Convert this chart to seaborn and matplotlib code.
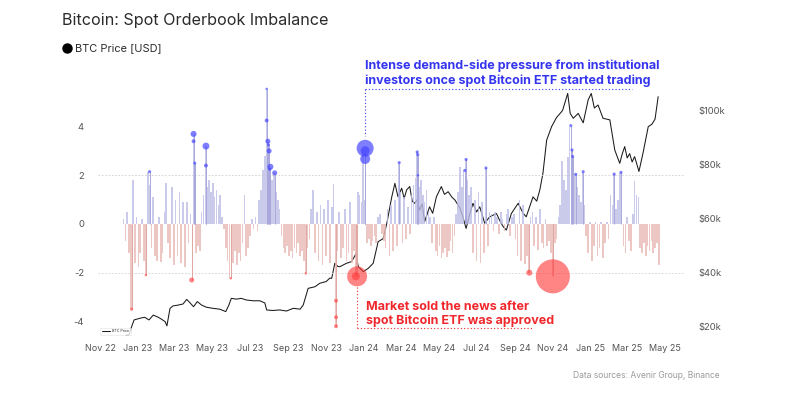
import matplotlib
matplotlib.use("Agg")
import matplotlib.pyplot as plt
import matplotlib.dates as mdates
import seaborn as sns
import pandas as pd
import numpy as np

sns.set_theme(style="white")
plt.rcParams['font.family'] = ['Inter', 'DejaVu Sans']

# ---------------- data ----------------
imbalance_start = "2022-12-09"   # one value every 3 days
imbalance = [
    0.2, -0.7, 0.5, -1.2, -3.5, 1.8, -1.6, 0.3, -1.75, -1.2,
    0.2, -1.5, -2.1, 2.15, 1.6, -1.0, 1.1, -1.3, -1.5, 0.3,
    -1.55, -1.2, 0.5, 1.7, -0.8, -1.4, 1.5, -1.7, 1.0, -1.3,
    1.3, -1.6, 0.9, -1.75, 0.9, -0.8, 0.4, -2.3, 3.7, -1.2,
    -0.9, -1.1, 0.5, 1.2, 3.2, 1.5, 1.8, 1.3, 1.7, 1.1,
    1.4, 0.8, 1.2, 0.3, -0.2, -1.0, -1.5, -2.2, -1.3, -1.6,
    -1.1, -1.7, -1.2, -1.5, -0.8, 1.2, -1.3, -1.0, -0.5, 0.2,
    -0.2, 0.3, -0.3, 1.0, 1.4, 2.2, 2.8, 5.55, 2.4, 1.6,
    1.8, 2.1, 1.3, 1.0, 0.6, -0.5, -1.0, -1.2, -0.9, -1.3,
    -1.1, -1.4, -1.0, -1.2, -0.8, -1.3, -1.1, -1.5, -2.0, -1.0,
    -0.6, 0.6, 1.4, -1.2, 0.5, -1.5, 0.8, -1.7, 0.6, -1.3,
    1.0, -1.6, 0.7, 1.65, -4.2, -1.1, 0.5, -1.4, -1.0, 0.6,
    -1.5, -1.2, 0.9, -1.6, -1.1, -2.15, 1.3, 1.2, 0.9, 3.1,
    1.0, -0.8, -0.6, -0.9, -0.7, -0.5, -0.8, 0.3, 0.4, -0.4,
    -0.7, -1.0, 0.6, -1.3, 0.8, -1.1, 1.0, -0.9, 2.5, 1.3,
    -0.8, 1.1, -0.6, 0.7, -0.4, 1.2, 1.6, 1.9, 2.95, 1.5,
    1.8, 1.2, 0.9, 1.4, 0.5, 0.3, -0.8, 0.3, -1.1, -1.3,
    -0.9, -1.4, -1.2, -1.0, -1.35, -1.1, -0.7, -1.2, -0.5, 0.4,
    1.3, 2.35, 1.5, 2.2, 2.65, 1.8, 1.2, 1.5, -1.2, 1.0,
    -1.5, 1.3, -1.6, 0.9, -1.2, 2.3, -0.9, 0.5, 0.4, -0.3,
    0.5, 0.3, -0.4, 0.5, 0.2, -0.3, 0.4, 0.6, -0.5, 0.3,
    0.4, -0.6, -1.3, 1.0, -1.5, 0.8, -1.65, -1.3, -2.0, 0.3,
    0.5, -0.9, 0.3, -1.05, 0.6, -0.8, -1.0, 0.2, -0.9, -0.7,
    -1.2, -2.15, -0.8, -0.6, 0.3, 0.8, 2.6, 1.8, 1.4, 2.75,
    4.0, 3.0, 2.75, 2.05, 1.5, 1.2, 0.9, 2.15, 0.8, -0.5,
    -1.2, 0.1, -1.5, -0.9, 0.1, -1.3, -1.0, 0.1, -1.4, -0.8,
    0.1, -0.6, 1.2, 0.8, 2.05, 0.6, 1.0, 2.1, 0.5, -0.9,
    -1.2, 0.3, -0.7, -1.1, 0.4, 1.75, 1.2, 1.1, -1.0, -1.2,
    -0.8, -1.3, -0.9, -1.1, -0.7, -1.2, -1.0, -0.8, -1.7,
]

price_dates = [
    "2022-12-13", "2022-12-18", "2022-12-22", "2022-12-26", "2023-01-04", "2023-01-12",
    "2023-01-19", "2023-01-26", "2023-02-03", "2023-02-08", "2023-02-14", "2023-02-17",
    "2023-02-22", "2023-02-27", "2023-03-07", "2023-03-15", "2023-03-21", "2023-03-26",
    "2023-04-01", "2023-04-07", "2023-04-14", "2023-04-22", "2023-05-02", "2023-05-13",
    "2023-05-23", "2023-05-28", "2023-06-01", "2023-06-09", "2023-06-17", "2023-06-25",
    "2023-07-06", "2023-07-17", "2023-07-25", "2023-07-28", "2023-08-07", "2023-08-18",
    "2023-08-29", "2023-09-09", "2023-09-20", "2023-09-25", "2023-10-03", "2023-10-14",
    "2023-10-22", "2023-11-01", "2023-11-07", "2023-11-10", "2023-11-15", "2023-11-20",
    "2023-11-23", "2023-12-04", "2023-12-12", "2023-12-19", "2023-12-23", "2023-12-31",
    "2024-01-08", "2024-01-16", "2024-01-24", "2024-02-01", "2024-02-07", "2024-02-15",
    "2024-02-20", "2024-02-25", "2024-03-02", "2024-03-06", "2024-03-10", "2024-03-15",
    "2024-03-19", "2024-03-23", "2024-03-27", "2024-03-31", "2024-04-04", "2024-04-08",
    "2024-04-16", "2024-04-21", "2024-04-27", "2024-05-05", "2024-05-10", "2024-05-16",
    "2024-05-22", "2024-05-27", "2024-06-04", "2024-06-09", "2024-06-14", "2024-06-19",
    "2024-06-25", "2024-07-01", "2024-07-06", "2024-07-14", "2024-07-22", "2024-08-02",
    "2024-08-08", "2024-08-13", "2024-08-18", "2024-08-26", "2024-09-06", "2024-09-14",
    "2024-09-19", "2024-09-30", "2024-10-06", "2024-10-11", "2024-10-16", "2024-10-22",
    "2024-10-30", "2024-11-07", "2024-11-15", "2024-11-17", "2024-11-25", "2024-11-29",
    "2024-12-04", "2024-12-12", "2024-12-20", "2024-12-28", "2025-01-02", "2025-01-07",
    "2025-01-13", "2025-01-21", "2025-02-01", "2025-02-09", "2025-02-17", "2025-02-21",
    "2025-02-25", "2025-03-01", "2025-03-05", "2025-03-09", "2025-03-13", "2025-03-20",
    "2025-03-27", "2025-04-04", "2025-04-10", "2025-04-15", "2025-04-20",
]
price_k = [
    16.9, 17.0, 20.0, 22.5, 23.1, 23.5,
    22.5, 24.3, 23.5, 22.8, 21.9, 20.3,
    26.8, 27.7, 28.0, 28.4, 30.1, 28.9,
    27.4, 29.3, 28.0, 27.2, 26.8, 26.5,
    25.6, 28.0, 30.5, 30.2, 30.5, 29.9,
    29.6, 29.6, 28.8, 26.2, 26.0, 26.2,
    25.8, 26.8, 26.5, 28.0, 34.2, 34.8,
    36.1, 36.7, 38.0, 37.9, 43.5, 42.3,
    42.2, 43.5, 44.1, 46.9, 42.2, 40.4,
    41.6, 43.5, 51.5, 52.6, 58.3, 68.1,
    73.1, 68.1, 71.3, 67.5, 70.7, 71.9,
    66.5, 65.7, 67.0, 63.2, 65.5, 58.9,
    64.4, 62.0, 68.1, 71.9, 69.0, 70.0,
    68.0, 66.9, 63.9, 60.5, 56.4, 61.0,
    65.7, 62.5, 64.4, 58.3, 60.7, 61.9,
    59.0, 57.0, 55.8, 61.9, 65.7, 62.0,
    60.7, 68.1, 66.5, 70.7, 76.8, 89.1,
    94.1, 97.5, 99.6, 100.3, 106.4, 99.0,
    97.2, 99.0, 95.5, 104.0, 106.4, 101.0,
    102.1, 97.2, 96.6, 85.4, 80.5, 84.0,
    86.7, 82.5, 84.1, 81.0, 83.0, 77.5,
    84.8, 94.1, 95.0, 96.9, 105.2,
]

buy_dates = ["2023-01-20", "2023-04-01", "2023-04-01", "2023-04-03", "2023-04-21", "2023-04-21",
             "2023-07-28", "2023-07-28", "2023-07-30", "2023-07-31", "2023-08-01", "2023-08-02",
             "2023-08-03", "2023-08-10", "2024-01-03", "2024-01-03", "2024-01-03", "2024-02-27",
             "2024-03-27", "2024-03-28", "2024-03-28", "2024-06-12", "2024-06-14", "2024-07-16",
             "2024-11-30", "2024-12-02", "2024-12-03", "2024-12-08", "2024-12-20", "2025-02-08",
             "2025-02-19"]
buy_values = [2.15, 3.7, 3.4, 2.5, 3.2, 2.4,
              5.55, 4.25, 3.4, 3.25, 3.0, 2.25,
              2.35, 2.1, 3.11, 3.01, 2.67, 2.52,
              2.96, 2.85, 2.0, 2.2, 2.65, 2.3,
              4.04, 3.04, 2.77, 2.04, 2.15, 2.05,
              2.12]
buy_sizes = [5, 19, 8, 5, 25, 8,
             3, 8, 13, 5, 13, 5,
             19, 13, 150, 42, 52, 5,
             5, 5, 3, 5, 5, 5,
             5, 5, 5, 5, 5, 5,
             5]

sell_dates = ["2022-12-22", "2023-01-14", "2023-03-29", "2023-05-31", "2023-09-29", "2023-11-17",
              "2023-11-17", "2023-11-17", "2023-12-21", "2023-12-19", "2024-09-24", "2024-11-01"]
sell_values = [-3.5, -2.1, -2.3, -2.23, -2.03, -3.15,
               -3.83, -4.2, -2.15, -2.15, -2.0, -2.15]
sell_sizes = [5, 3, 13, 3, 3, 8,
              8, 8, 207, 33, 19, 600]

x_tick_dates = pd.date_range("2022-11-01", "2025-05-01", freq="2MS")
imb_ticks = [-4, -2, 0, 2, 4]
price_ticks_k = [20, 40, 60, 80, 100]

# ---------------- figure ----------------
W, H = 788, 393
fig = plt.figure(figsize=(W / 100, H / 100), dpi=100)
fig.patch.set_facecolor("white")

def fx(px):
    return px / W

def fy(py):
    return 1 - py / H

ax_p = fig.add_axes([fx(98), fy(338), fx(685) - fx(98), fy(60) - fy(338)])
ax_i = ax_p.twinx()

x_lo = pd.Timestamp("2022-10-28 18:00")
x_hi = pd.Timestamp("2025-06-02 08:00")

# price line
pdf = pd.DataFrame({"date": pd.to_datetime(price_dates), "price": np.array(price_k) * 1000})
sns.lineplot(data=pdf, x="date", y="price", ax=ax_p, color="#1a1a1a", linewidth=0.75,
             label="BTC Price", legend=False)
ax_p.set_ylim(15810, 118780)
ax_p.set_xlim(x_lo, x_hi)

# imbalance bars
bar_dates = pd.date_range(imbalance_start, periods=len(imbalance), freq="3D")
vals = np.array(imbalance)
pos = vals >= 0
ax_i.bar(bar_dates[pos], vals[pos], width=2.6, color="#bdbde6", alpha=0.8, linewidth=0, zorder=2)
ax_i.bar(bar_dates[~pos], vals[~pos], width=2.6, color="#e8bab5", alpha=0.8, linewidth=0, zorder=2)

# dots with stems
bd = pd.to_datetime(buy_dates)
sd = pd.to_datetime(sell_dates)
ax_i.vlines(bd, 0, buy_values, color="#a8a8dc", linewidth=0.7, zorder=2)
ax_i.vlines(sd, 0, sell_values, color="#e0a8a2", linewidth=0.7, zorder=2)
sns.scatterplot(x=bd, y=buy_values, s=buy_sizes, color="#4848ff", alpha=0.7,
                linewidth=0, ax=ax_i, zorder=4, legend=False)
sns.scatterplot(x=sd, y=sell_values, s=sell_sizes, color="#ff3a3a", alpha=0.62,
                linewidth=0, ax=ax_i, zorder=4, legend=False)

ax_i.set_ylim(-4.682, 6.735)
ax_i.set_xlim(x_lo, x_hi)

# grid at +-2
for g in (2, -2):
    ax_i.axhline(g, color="#cfcfcf", linewidth=0.6, linestyle=(0, (2, 2)), zorder=1)

# axes styling
for a in (ax_p, ax_i):
    for s in a.spines.values():
        s.set_visible(False)
    a.set_xlabel("")
    a.set_ylabel("")
    a.grid(False)

ax_i.yaxis.tick_left()
ax_i.set_yticks(imb_ticks)
ax_i.set_yticklabels([str(t) for t in imb_ticks])
ax_i.tick_params(axis="y", length=0, pad=10, labelsize=6.8, labelcolor="#555555")

ax_p.yaxis.tick_right()
ax_p.set_yticks([t * 1000 for t in price_ticks_k])
ax_p.set_yticklabels([f"${t}k" for t in price_ticks_k])
ax_p.tick_params(axis="y", length=0, pad=10, labelsize=6.8, labelcolor="#555555")

ax_p.set_xticks(x_tick_dates)
ax_p.xaxis.set_major_formatter(mdates.DateFormatter("%b %y"))
ax_p.tick_params(axis="x", length=0, pad=4, labelsize=6.5, labelcolor="#555555")
ax_i.tick_params(axis="x", length=0, labelbottom=False)

# tiny inner legend
leg = ax_p.legend(loc="lower left", bbox_to_anchor=(0.001, 0.005), fontsize=2.6,
                  handlelength=2.2, frameon=True, fancybox=False, edgecolor="#dddddd",
                  borderpad=0.4, handletextpad=0.6)
leg.get_frame().set_linewidth(0.4)

# titles and legend header
fig.text(fx(62), fy(20), "Bitcoin: Spot Orderbook Imbalance", fontsize=11.6,
         color="#2b2b2b", va="center", ha="left")
fig.lines.append(plt.Line2D([fx(67)], [fy(48)], marker="o", markersize=6.5, color="black",
                            transform=fig.transFigure, linestyle=""))
fig.text(fx(75), fy(48.5), "BTC Price [USD]", fontsize=7.9, color="#2b2b2b",
         va="center", ha="left")
fig.text(fx(720), fy(375), "Data sources: Avenir Group, Binance", fontsize=6.1,
         color="#9a9a9a", va="center", ha="right")

# annotations
blue = "#3535f0"
red = "#f0282d"
fig.text(fx(365), fy(73), "Intense demand-side pressure from institutional\ninvestors once spot Bitcoin ETF started trading",
         fontsize=9, fontweight="bold", color=blue, va="center", ha="left", linespacing=1.25)
fig.text(fx(366), fy(314), "Market sold the news after\nspot Bitcoin ETF was approved",
         fontsize=9, fontweight="bold", color=red, va="center", ha="left", linespacing=1.25)

etf_buy_date = bd[14]
etf_sell_date = sd[8]
ann_top = 5.54
ax_i.plot([etf_buy_date, etf_buy_date], [ann_top, buy_values[14] + 0.5], color=blue,
          linewidth=0.8, linestyle=(0, (1, 2)), zorder=5)
ax_i.plot([etf_buy_date, pd.Timestamp("2025-03-09")], [ann_top, ann_top], color=blue,
          linewidth=0.8, linestyle=(0, (1, 2)), zorder=5)
ann_bot = -4.27
ax_i.plot([etf_sell_date, etf_sell_date], [sell_values[8] - 0.45, ann_bot], color=red,
          linewidth=0.8, linestyle=(0, (1, 2)), zorder=5)
ax_i.plot([etf_sell_date, pd.Timestamp("2024-09-28")], [ann_bot, ann_bot], color=red,
          linewidth=0.8, linestyle=(0, (1, 2)), zorder=5)

fig.savefig("out.png", dpi=100, facecolor="white")
